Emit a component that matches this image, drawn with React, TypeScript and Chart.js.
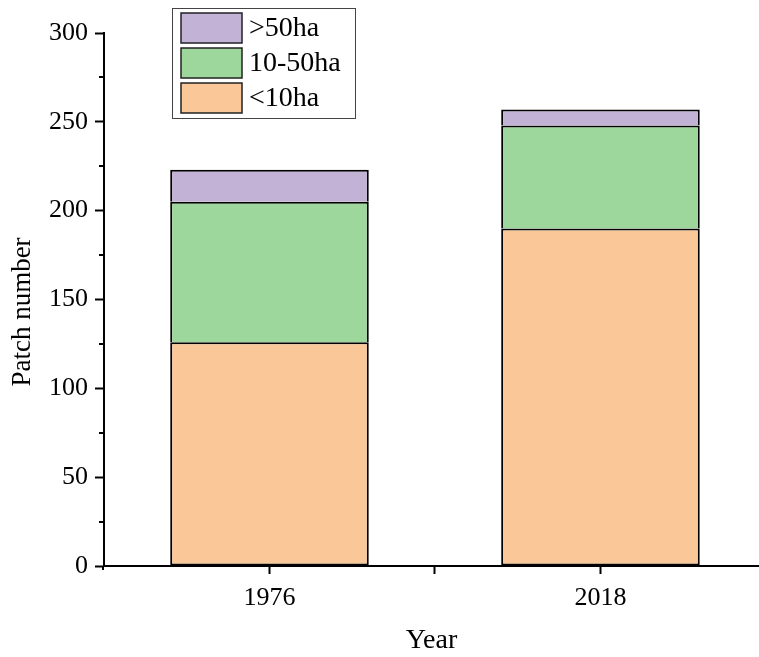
import React, { useEffect, useRef } from "react";
import { Chart, registerables } from "chart.js";

Chart.register(...registerables);

const years = ["1976", "2018"];
const yearPositions = [1, 2];
const seriesNames = ["<10ha", "10-50ha", ">50ha"];
const smallPatches = [126, 190];
const mediumPatches = [79, 58];
const largePatches = [18, 9];
const yTicks = [0, 50, 100, 150, 200, 250, 300];
const yMinorTicks = [25, 75, 125, 175, 225, 275];
const xTicks = [1, 1.5, 2];
const yTitle = "Patch number";

const colors = ["#FAC898", "#9ED79C", "#C2B2D6"];
const FONT = '"Liberation Serif", "Times New Roman", serif';

const minorTickPlugin = {
  id: "minorTicks",
  afterDraw(chart: any) {
    const y = chart.scales.y;
    const ctx = chart.ctx;
    ctx.save();
    ctx.strokeStyle = "#000";
    ctx.lineWidth = 2;
    for (const v of yMinorTicks) {
      const py = Math.round(y.getPixelForValue(v));
      ctx.beginPath();
      ctx.moveTo(y.right - 5, py);
      ctx.lineTo(y.right, py);
      ctx.stroke();
    }
    // small extension of y axis below the x axis
    const y0 = y.getPixelForValue(0);
    ctx.beginPath();
    ctx.moveTo(y.right - 1, y0);
    ctx.lineTo(y.right - 1, y0 + 4);
    ctx.stroke();
    // y title
    ctx.fillStyle = "#000";
    ctx.font = `27px ${FONT}`;
    ctx.textAlign = "center";
    ctx.textBaseline = "middle";
    ctx.translate(23, 312);
    ctx.rotate(-Math.PI / 2);
    ctx.fillText(yTitle, 0, 0);
    ctx.restore();
  },
};

const boxLegendPlugin = {
  id: "boxLegend",
  afterDraw(chart: any) {
    const ctx = chart.ctx;
    const ds = chart.data.datasets.slice().reverse();
    ctx.save();
    ctx.strokeStyle = "#444";
    ctx.lineWidth = 1;
    ctx.strokeRect(172.5, 8.5, 183, 110);
    ctx.font = `28px ${FONT}`;
    ctx.textBaseline = "middle";
    ctx.textAlign = "left";
    ds.forEach((d: any, i: number) => {
      const top = 13 + i * 35;
      ctx.fillStyle = d.backgroundColor;
      ctx.fillRect(181, top, 61, 30);
      ctx.strokeStyle = "#222";
      ctx.lineWidth = 1.5;
      ctx.strokeRect(181, top, 61, 30);
      ctx.fillStyle = "#000";
      ctx.fillText(d.label, 249, top + 16);
    });
    ctx.restore();
  },
};

export default function App() {
  const ref = useRef<HTMLCanvasElement>(null);
  useEffect(() => {
    if (!ref.current) return;
    const values = [smallPatches, mediumPatches, largePatches];
    const chart = new Chart(ref.current, {
      type: "bar",
      data: {
        datasets: seriesNames.map((name, i) => ({
          label: name,
          data: yearPositions.map((x, j) => ({ x, y: values[i][j] })),
          backgroundColor: colors[i],
          borderColor: "#000",
          borderWidth: i === 0 ? 2 : { top: 2, left: 2, right: 2, bottom: 0 },
          borderSkipped: false,
          barPercentage: 1.2,
          categoryPercentage: 1,
        })),
      },
      options: {
        animation: false,
        responsive: true,
        maintainAspectRatio: false,
        layout: { padding: { left: 0, top: 33, right: 0, bottom: 0 } },
        plugins: { legend: { display: false }, tooltip: { enabled: false } },
        scales: {
          x: {
            type: "linear",
            stacked: true,
            offset: false,
            min: 0.5,
            max: 2.479,
            afterBuildTicks: (scale: any) => {
              scale.ticks = xTicks.map((v) => ({ value: v }));
            },
            afterFit: (scale: any) => {
              scale.height = 91;
            },
            grid: {
              offset: false,
              drawOnChartArea: false,
              drawTicks: true,
              tickLength: 8,
              tickWidth: 2,
              tickColor: "#000",
            },
            border: { display: true, color: "#000", width: 2 },
            ticks: {
              color: "#000",
              font: { family: FONT, size: 26 },
              padding: 9,
              maxRotation: 0,
              autoSkip: false,
              callback: (v: any) => {
                const idx = yearPositions.indexOf(Number(v));
                return idx >= 0 ? years[idx] : "";
              },
            },
            title: {
              display: true,
              text: "Year",
              color: "#000",
              font: { family: FONT, size: 28 },
              padding: { top: 0, bottom: 0 },
            },
          },
          y: {
            stacked: true,
            min: 0,
            max: 300,
            afterBuildTicks: (scale: any) => {
              scale.ticks = yTicks.map((v) => ({ value: v }));
            },
            afterFit: (scale: any) => {
              scale.width = 104;
            },
            grid: {
              drawOnChartArea: false,
              drawTicks: true,
              tickLength: 9,
              tickWidth: 2,
              tickColor: "#000",
            },
            border: { display: true, color: "#000", width: 2 },
            ticks: {
              color: "#000",
              font: { family: FONT, size: 26 },
              padding: 7,
            },
            title: { display: false },
          },
        },
      },
      plugins: [minorTickPlugin, boxLegendPlugin],
    });
    return () => chart.destroy();
  }, []);
  return (
    <div style={{ position: "absolute", left: 0, top: 0, width: 759, height: 657 }}>
      <canvas ref={ref} />
    </div>
  );
}
